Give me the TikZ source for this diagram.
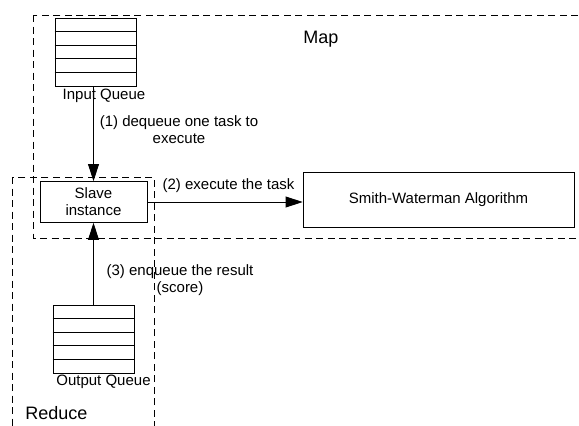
\documentclass[tikz,border=0pt]{standalone}
\usepackage{fontspec}
\setmainfont{Liberation Sans}
\usetikzlibrary{arrows.meta,positioning,calc}

\begin{document}
\begin{tikzpicture}[
  x=1pt, y=-1pt,
  font=\fontsize{15}{17}\selectfont,
  line width=0.8pt,
  % Node styles
  queuebox/.style={rectangle, draw=black, minimum width=81pt, minimum height=68pt, inner sep=0pt},
  procbox/.style={rectangle, draw=black, align=center, inner sep=2pt},
  region/.style={draw=black, dash pattern=on 7pt off 4.5pt},
  lbl/.style={align=center, inner sep=0pt},
  bigtxt/.style={font=\fontsize{18}{21}\selectfont, inner sep=0pt},
  arr/.style={-{Triangle[length=17pt,width=11pt]}, line width=0.8pt}
]
  \useasboundingbox (0,0) rectangle (579,426);

  % ============================================
  % Regions: Map and Reduce
  % ============================================
  \begin{scope}
    \clip (0,0) rectangle (579,426);
    \draw[region] (33,15) rectangle (600,238);
    \draw[region] (12,177) rectangle (154,450);
  \end{scope}
  \node[bigtxt, anchor=base west] (maplbl) at (303,43) {Map};
  \node[bigtxt, anchor=base west] (reducelbl) at (25,419) {Reduce};

  % ============================================
  % Nodes
  % ============================================
  \node[queuebox] (inq) at (95.5,52) {};
  \node[queuebox] (outq) at (93.5,339) {};
  \foreach \q in {inq,outq} {
    \foreach \k in {1,...,4}
      \draw ($(\q.north west)!\k/5!(\q.south west)$) -- ($(\q.north east)!\k/5!(\q.south east)$);
  }
  \node[lbl, anchor=base] (inqlbl) at (104,99) {Input Queue};
  \node[lbl, anchor=base] (outqlbl) at (103.5,385) {Output Queue};

  \node[procbox, minimum width=107pt, minimum height=41pt] (slave) at (93.5,202) {Slave\\instance};
  \node[procbox, minimum width=271pt, minimum height=55pt] (sw) at (438.5,200) {Smith-Waterman Algorithm};

  % ============================================
  % Edges
  % ============================================
  \draw[arr] (inq.south -| slave.north) -- (slave.north);
  \node[lbl, anchor=north] (deqlbl) at (179,115) {(1) dequeue one task to\\execute};

  \draw[arr] (slave.east) -- (slave.east -| sw.west);
  \node[lbl, anchor=base] (execlbl) at (228.5,189) {(2) execute the task};

  \draw[arr] (outq.north) -- (slave.south);
  \node[lbl, anchor=north] (enqlbl) at (180,264) {(3) enqueue the result\\(score)};

\end{tikzpicture}
\end{document}
